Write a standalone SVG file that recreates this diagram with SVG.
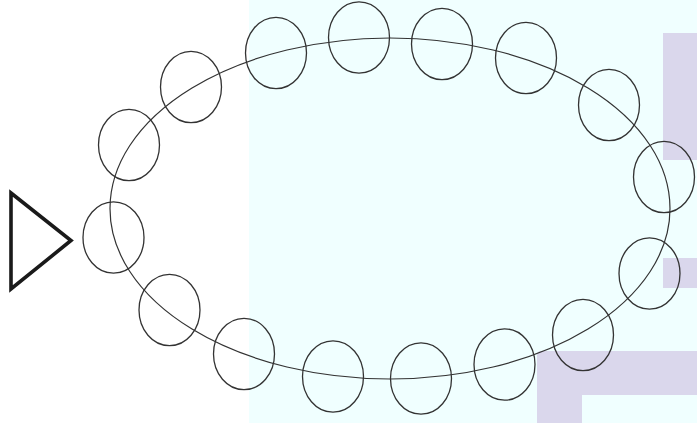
<svg xmlns="http://www.w3.org/2000/svg" width="697" height="423" viewBox="0 0 697 423">
<style>
.bg{fill:#f0ffff}
.lav{fill:#dad7ec}
.bead{fill:none;stroke:#333;stroke-width:1.3}
.loop{fill:none;stroke:#333;stroke-width:1.2}
.tri{fill:none;stroke:#1a1a1a;stroke-width:3.6;stroke-linejoin:miter;stroke-miterlimit:10}
</style>
<rect width="697" height="423" fill="#ffffff"/>
<g id="background">
<rect class="bg" x="249" y="0" width="448" height="423"/>
<rect class="lav" x="663" y="33" width="34" height="127"/>
<rect class="lav" x="663" y="258" width="34" height="30"/>
<path class="lav" d="M541,351 H697 V395 H582 V423 H537 V355 Q537,351 541,351 Z"/>
</g>
<g id="connectors">
<ellipse class="loop" cx="390" cy="208.5" rx="280" ry="170.5"/>
</g>
<g id="start">
<polygon class="tri" points="11,193 71,240.5 11,289"/>
</g>
<g id="bead1"><ellipse class="bead" cx="113.5" cy="237.5" rx="30.5" ry="35.7"/></g>
<g id="bead2"><ellipse class="bead" cx="129" cy="145" rx="30.5" ry="35.7"/></g>
<g id="bead3"><ellipse class="bead" cx="191" cy="87" rx="30.5" ry="35.7"/></g>
<g id="bead4"><ellipse class="bead" cx="276" cy="53" rx="30.5" ry="35.7"/></g>
<g id="bead5"><ellipse class="bead" cx="359" cy="37.5" rx="30.5" ry="35.7"/></g>
<g id="bead6"><ellipse class="bead" cx="442" cy="44" rx="30.5" ry="35.7"/></g>
<g id="bead7"><ellipse class="bead" cx="526" cy="58" rx="30.5" ry="35.7"/></g>
<g id="bead8"><ellipse class="bead" cx="609" cy="105" rx="30.5" ry="35.7"/></g>
<g id="bead9"><ellipse class="bead" cx="664" cy="177" rx="30.5" ry="35.7"/></g>
<g id="bead10"><ellipse class="bead" cx="649.5" cy="273.5" rx="30.5" ry="35.7"/></g>
<g id="bead11"><ellipse class="bead" cx="583" cy="335" rx="30.5" ry="35.7"/></g>
<g id="bead12"><ellipse class="bead" cx="504.5" cy="364.5" rx="30.5" ry="35.7"/></g>
<g id="bead13"><ellipse class="bead" cx="421" cy="378.5" rx="30.5" ry="35.7"/></g>
<g id="bead14"><ellipse class="bead" cx="333" cy="376.5" rx="30.5" ry="35.7"/></g>
<g id="bead15"><ellipse class="bead" cx="244" cy="354" rx="30.5" ry="35.7"/></g>
<g id="bead16"><ellipse class="bead" cx="169.5" cy="310" rx="30.5" ry="35.7"/></g>
</svg>
